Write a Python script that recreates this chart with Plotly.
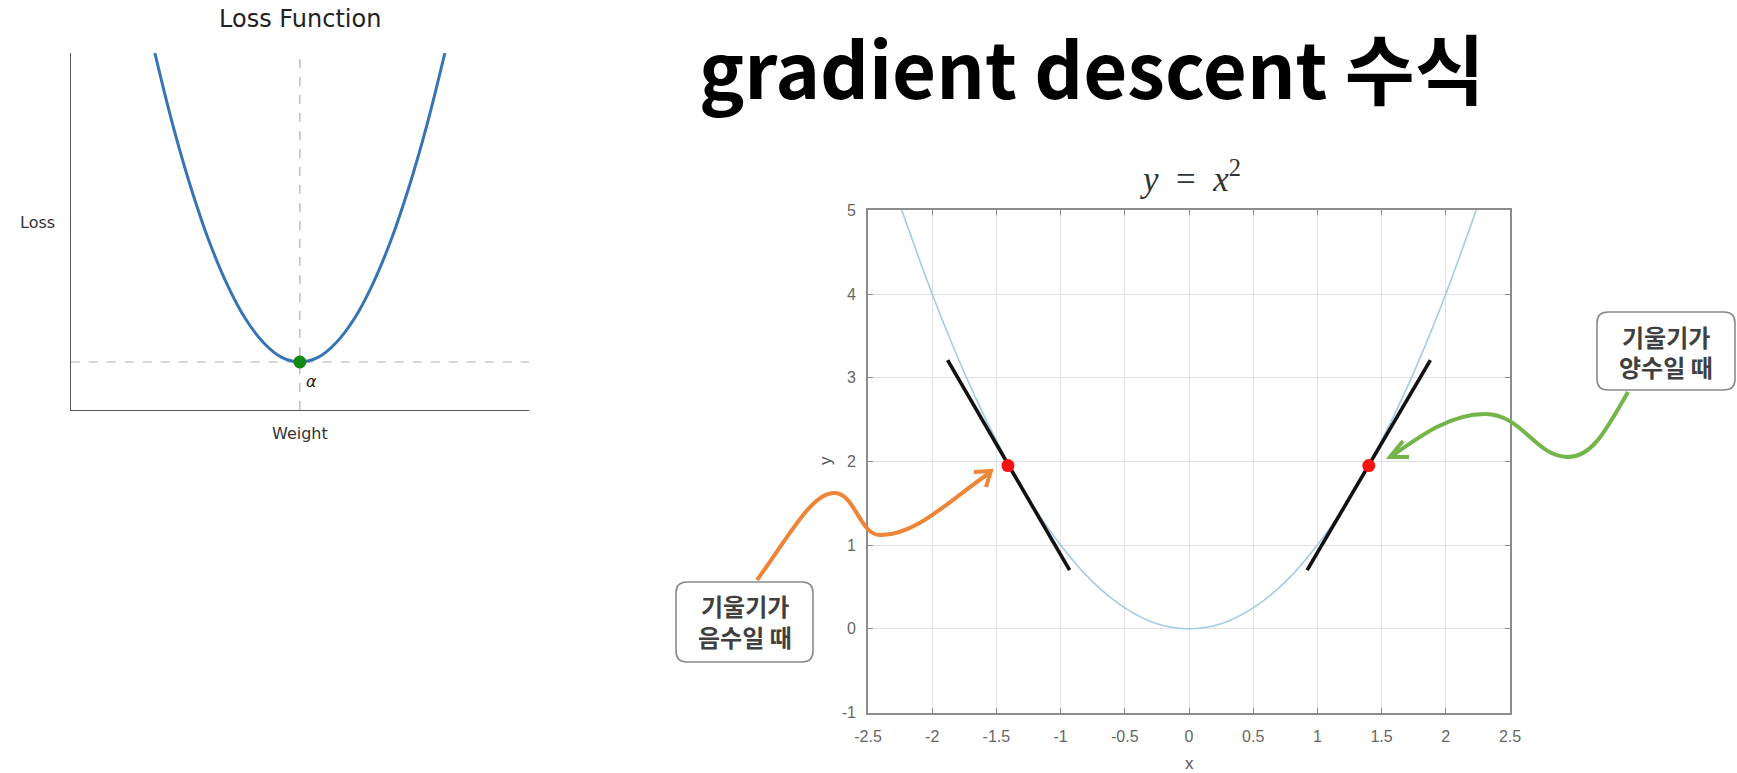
import plotly.graph_objects as go

W, H = 1737, 773

# ---------------- data: left chart (Loss Function) ----------------
weights = [-2.0, -1.75, -1.5, -1.25, -1.0, -0.75, -0.5, -0.25, 0.0,
           0.25, 0.5, 0.75, 1.0, 1.25, 1.5, 1.75, 2.0]
loss = [5.0, 4.06, 3.25, 2.56, 2.0, 1.56, 1.25, 1.06, 1.0,
        1.06, 1.25, 1.56, 2.0, 2.56, 3.25, 4.06, 5.0]
min_weight = [0.0]
min_loss = [1.0]

# ---------------- data: right chart (y = x^2) ----------------
curve_x = [-2.25, -2.0, -1.75, -1.5, -1.25, -1.0, -0.75, -0.5, -0.25, 0.0,
           0.25, 0.5, 0.75, 1.0, 1.25, 1.5, 1.75, 2.0, 2.25]
curve_y = [5.06, 4.0, 3.06, 2.25, 1.56, 1.0, 0.56, 0.25, 0.06, 0.0,
           0.06, 0.25, 0.56, 1.0, 1.56, 2.25, 3.06, 4.0, 5.06]
tan_left_x = [-1.88, -0.93]
tan_left_y = [3.21, 0.70]
tan_right_x = [0.92, 1.88]
tan_right_y = [0.70, 3.21]
point_x = [-1.41, 1.40]
point_y = [1.95, 1.95]
x_ticks = [-2.5, -2, -1.5, -1, -0.5, 0, 0.5, 1, 1.5, 2, 2.5]
x_tick_text = ["-2.5", "-2", "-1.5", "-1", "-0.5", "0", "0.5", "1", "1.5", "2", "2.5"]
y_ticks = [-1, 0, 1, 2, 3, 4, 5]
y_tick_text = ["-1", "0", "1", "2", "3", "4", "5"]

title_text = "gradient descent 수식"
neg_lines = ["기울기가", "음수일 때"]
pos_lines = ["기울기가", "양수일 때"]


def px(x):
    return x / W


def py(y):
    return 1 - y / H


fig = go.Figure()

# left chart traces
fig.add_trace(go.Scatter(x=weights, y=loss, mode="lines", line=dict(color="#3674b5", width=3, shape="spline"),
                         xaxis="x", yaxis="y", hoverinfo="skip"))
fig.add_trace(go.Scatter(x=min_weight, y=min_loss, mode="markers",
                         marker=dict(color="#138a13", size=13), xaxis="x", yaxis="y", cliponaxis=False))

# right chart traces
fig.add_trace(go.Scatter(x=curve_x, y=curve_y, mode="lines", line=dict(color="#a3cbe8", width=1.6, shape="spline"),
                         xaxis="x2", yaxis="y2"))
fig.add_trace(go.Scatter(x=tan_left_x, y=tan_left_y, mode="lines", line=dict(color="#111111", width=3.6),
                         xaxis="x2", yaxis="y2"))
fig.add_trace(go.Scatter(x=tan_right_x, y=tan_right_y, mode="lines", line=dict(color="#111111", width=3.6),
                         xaxis="x2", yaxis="y2"))
fig.add_trace(go.Scatter(x=point_x, y=point_y, mode="markers", marker=dict(color="#ff1010", size=13),
                         xaxis="x2", yaxis="y2"))

shapes = []
# left chart dashed reference lines
shapes.append(dict(type="line", xref="x", yref="y domain", x0=min_weight[0], x1=min_weight[0], y0=0, y1=1,
                   line=dict(color="#b0b0b0", width=1.2, dash="dash"), layer="below"))
shapes.append(dict(type="line", xref="x domain", yref="y", x0=0, x1=1, y0=min_loss[0], y1=min_loss[0],
                   line=dict(color="#b0b0b0", width=1.2, dash="dash"), layer="below"))


def rounded_box(x0, y0, x1, y1, r):
    pts = [
        ("M", [(x0 + r, y0)]), ("L", [(x1 - r, y0)]), ("Q", [(x1, y0), (x1, y0 + r)]),
        ("L", [(x1, y1 - r)]), ("Q", [(x1, y1), (x1 - r, y1)]), ("L", [(x0 + r, y1)]),
        ("Q", [(x0, y1), (x0, y1 - r)]), ("L", [(x0, y0 + r)]), ("Q", [(x0, y0), (x0 + r, y0)]),
    ]
    s = ""
    for cmd, coords in pts:
        s += cmd + " " + " ".join(f"{px(a):.5f},{py(b):.5f}" for a, b in coords) + " "
    return s + "Z"


def pix_path(cmds):
    s = ""
    for cmd, coords in cmds:
        s += cmd + " " + " ".join(f"{px(a):.5f},{py(b):.5f}" for a, b in coords) + " "
    return s


# callout boxes
shapes.append(dict(type="path", xref="paper", yref="paper", path=rounded_box(676, 582, 813, 662, 11),
                   line=dict(color="#8a8a8a", width=1.6), fillcolor="white"))
shapes.append(dict(type="path", xref="paper", yref="paper", path=rounded_box(1597, 312, 1735, 390, 11),
                   line=dict(color="#8a8a8a", width=1.6), fillcolor="white"))

# orange curvy arrow
orange = "#ee8436"
shapes.append(dict(type="path", xref="paper", yref="paper",
                   path=pix_path([("M", [(757, 580)]), ("C", [(790, 535), (812, 492), (835, 493)]),
                                  ("C", [(855, 494), (860, 535), (880, 535)]),
                                  ("C", [(915, 536), (950, 500), (988, 474)])]),
                   line=dict(color=orange, width=4)))
shapes.append(dict(type="path", xref="paper", yref="paper",
                   path=pix_path([("M", [(974, 472)]), ("L", [(991, 471)]), ("L", [(986, 487)])]),
                   line=dict(color=orange, width=4)))

# green curvy arrow
green = "#74b54a"
shapes.append(dict(type="path", xref="paper", yref="paper",
                   path=pix_path([("M", [(1628, 392)]), ("C", [(1606, 430), (1592, 458), (1567, 457)]),
                                  ("C", [(1535, 456), (1522, 414), (1485, 414)]),
                                  ("C", [(1450, 414), (1420, 436), (1392, 456)])]),
                   line=dict(color=green, width=4)))
shapes.append(dict(type="path", xref="paper", yref="paper",
                   path=pix_path([("M", [(1403, 441)]), ("L", [(1390, 457)]), ("L", [(1409, 457)])]),
                   line=dict(color=green, width=4)))

annotations = [
    # big title
    dict(x=px(1092), y=py(66), xref="paper", yref="paper", text=f"<b>{title_text}</b>", showarrow=False,
         font=dict(family="Noto Sans CJK KR", size=76, color="#000000"),
         xanchor="center", yanchor="middle"),
    # left chart texts
    dict(x=px(300), y=py(19), xref="paper", yref="paper", text="Loss Function", showarrow=False,
         font=dict(family="DejaVu Sans", size=24, color="#222222"), xanchor="center", yanchor="middle"),
    dict(x=px(37.5), y=py(222), xref="paper", yref="paper", text="Loss", showarrow=False,
         font=dict(family="DejaVu Sans", size=16, color="#333333"), xanchor="center", yanchor="middle"),
    dict(x=px(300), y=py(433), xref="paper", yref="paper", text="Weight", showarrow=False,
         font=dict(family="DejaVu Sans", size=16, color="#333333"), xanchor="center", yanchor="middle"),
    dict(x=px(311), y=py(382), xref="paper", yref="paper", text="<i>α</i>", showarrow=False,
         font=dict(family="DejaVu Sans", size=16, color="#222222"), xanchor="center", yanchor="middle"),
    # right chart texts
    dict(x=px(1190), y=py(177), xref="paper", yref="paper",
         text="<i>y</i>&nbsp;&nbsp;=&nbsp;&nbsp;<i>x</i><sup>2</sup>",
         showarrow=False, font=dict(family="Liberation Serif", size=35, color="#333333"),
         xanchor="center", yanchor="middle"),
    dict(x=px(1189), y=py(763), xref="paper", yref="paper", text="x", showarrow=False,
         font=dict(family="Liberation Sans", size=17, color="#555555"),
         xanchor="center", yanchor="middle"),
    dict(x=px(826), y=py(461), xref="paper", yref="paper", text="y", showarrow=False, textangle=-90,
         font=dict(family="Liberation Sans", size=17, color="#555555"),
         xanchor="center", yanchor="middle"),
]

# callout texts, one annotation per line
callout_font = dict(family="Noto Sans CJK KR", size=24, color="#404040")
for cx, cy_list, lines in [(744.5, [605.5, 636.5], neg_lines), (1666, [336, 366.5], pos_lines)]:
    for cy, line in zip(cy_list, lines):
        annotations.append(dict(x=px(cx), y=py(cy), xref="paper", yref="paper", text=f"<b>{line}</b>",
                                showarrow=False, font=callout_font, xanchor="center", yanchor="middle"))

tick_font = dict(family="Liberation Sans", size=16, color="#666666")

fig.update_layout(
    width=W, height=H, margin=dict(l=0, r=0, t=0, b=0, pad=0, autoexpand=False),
    paper_bgcolor="white", plot_bgcolor="white", showlegend=False,
    xaxis=dict(domain=[px(70.7), px(529)], range=[-3.16, 3.16], anchor="y", automargin=False,
               showline=True, linecolor="#555555", linewidth=1.4, showgrid=False, zeroline=False,
               showticklabels=False, ticks=""),
    yaxis=dict(domain=[py(410), py(53)], range=[0.379, 5.0], anchor="x", automargin=False,
               showline=True, linecolor="#555555", linewidth=1.4, showgrid=False, zeroline=False,
               showticklabels=False, ticks=""),
    xaxis2=dict(domain=[px(868), px(1510)], range=[-2.5, 2.5], anchor="y2", automargin=False,
                tickvals=x_ticks, ticktext=x_tick_text, ticks="inside", ticklen=5, tickcolor="#8c8c8c",
                showline=True, mirror="ticks", linecolor="#8c8c8c", linewidth=1.8,
                showgrid=True, gridcolor="#e2e2e2", gridwidth=1, zeroline=False,
                tickfont=tick_font, ticklabelstandoff=8),
    yaxis2=dict(domain=[py(712.5), py(210.3)], range=[-1, 5], anchor="x2", automargin=False,
                tickvals=y_ticks, ticktext=y_tick_text, ticks="inside", ticklen=5, tickcolor="#8c8c8c",
                showline=True, mirror="ticks", linecolor="#8c8c8c", linewidth=1.8,
                showgrid=True, gridcolor="#e2e2e2", gridwidth=1, zeroline=False,
                tickfont=tick_font, ticklabelstandoff=7),
    shapes=shapes,
    annotations=annotations,
)

fig.write_html("out.html", config={"displayModeBar": False},
               post_script="document.body.style.margin='0';")
